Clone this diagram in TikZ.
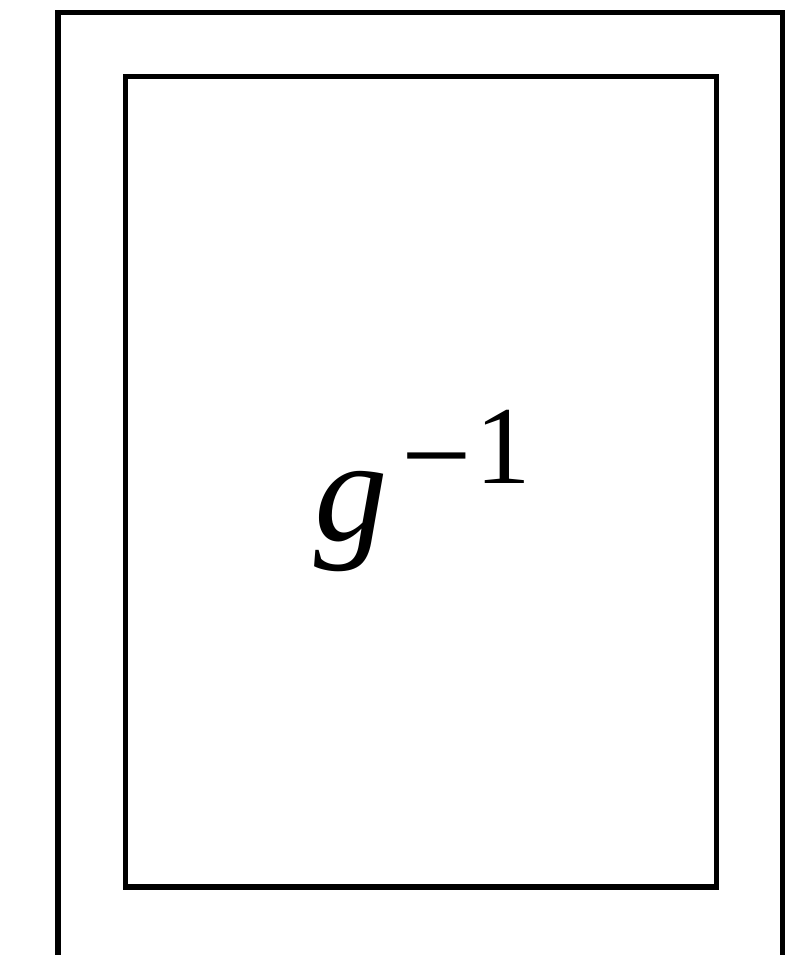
\documentclass[tikz,border=0pt]{standalone}
\usepackage{fontspec}
\setmainfont{Liberation Serif}
\tikzset{
  frame/.style={draw=black, line width=5.5pt, line join=miter},
  txt/.style={inner sep=0pt, outer sep=0pt, anchor=base west},
}
\begin{document}
\begin{tikzpicture}[x=1pt,y=-1pt]
\useasboundingbox (0,0) rectangle (811,955);
\coordinate (ol) at (58,960);
\coordinate (or) at (782.5,960);
\draw[frame] (ol) -- (58,12.5) -- (782.5,12.5) -- (or);
\node[frame, inner sep=0pt, outer sep=0pt, minimum width=591pt, minimum height=810.5pt, anchor=north west] (inner) at (125.5,76.5) {};
\node[txt] (g) at (314,540) {\fontsize{147}{150}\selectfont\textit{g}};
\node[txt] (minus) at (401.5,497) {\fontsize{125}{130}\selectfont −};
\node[txt] (one) at (475,483) {\fontsize{111}{115}\selectfont 1};
\end{tikzpicture}
\end{document}
